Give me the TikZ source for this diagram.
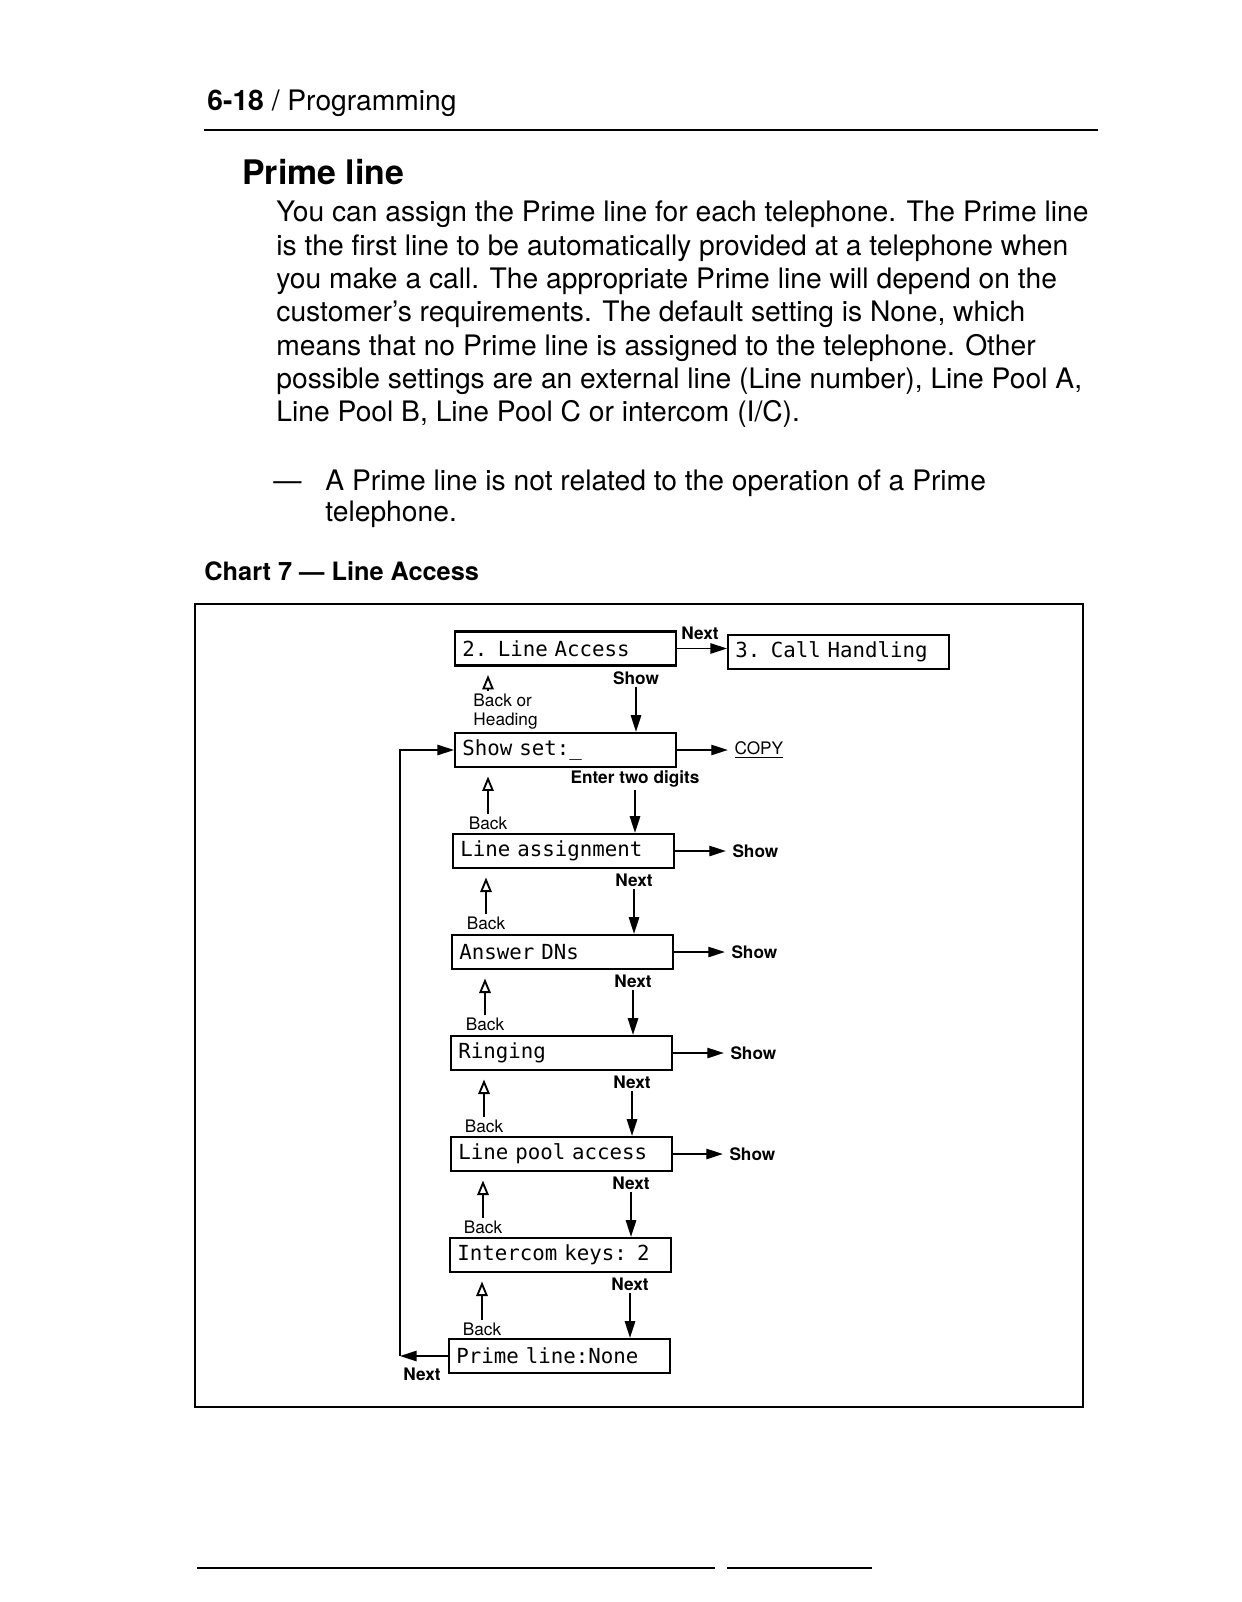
\documentclass[tikz,border=0pt]{standalone}
\usepackage{fontspec}
\setmainfont{TeX Gyre Heros}
\newfontfamily\lcdfont{DejaVu Sans Mono}
\usetikzlibrary{arrows.meta}

\begin{document}
\begin{tikzpicture}[
    x=0.4818pt, y=-0.4818pt,
    >={Triangle[length=8pt,width=5pt]},
    screen/.style={draw, rectangle, line width=1.1pt, anchor=west, minimum height=16.4pt, text width=99.5pt, inner xsep=3.5pt, inner ysep=0pt, align=left, font=\lcdfont\fontsize{10}{12}\selectfont},
    keylbl/.style={inner sep=1pt, font=\fontsize{8.3}{10}\selectfont\bfseries},
    backlbl/.style={inner sep=1pt, font=\fontsize{8.3}{10}\selectfont},
    body/.style={anchor=base west, inner sep=0pt, font=\fontsize{13.6}{16}\selectfont},
    wire/.style={line width=0.7pt},
    fwd/.style={wire, ->},
    bk/.style={wire, -{Triangle[open, length=7pt, width=5.5pt, line width=0.9pt]}, shorten >=4pt}
]
  \useasboundingbox (0,0) rectangle (1241,1602);

  % Page head
  \node[anchor=base west, inner sep=0pt, font=\fontsize{13.6}{16}\selectfont] (hdr) at (207,111) {\textbf{6-18} / Programming};
  \draw[line width=0.8pt] (204,130) -- (1098,130);
  \node[anchor=base west, inner sep=0pt, font=\fontsize{16.3}{19}\selectfont\bfseries] (title) at (242,185) {Prime line};

  % Text
  \node[body] (p1) at (276,222) {You can assign the Prime line for each telephone. The Prime line};
  \node[body] (p2) at (276,255.3) {is the first line to be automatically provided at a telephone when};
  \node[body] (p3) at (276,288.6) {you make a call. The appropriate Prime line will depend on the};
  \node[body] (p4) at (276,321.9) {customer's requirements. The default setting is None, which};
  \node[body] (p5) at (276,355.2) {means that no Prime line is assigned to the telephone. Other};
  \node[body] (p6) at (276,388.5) {possible settings are an external line (Line number), Line Pool A,};
  \node[body] (p7) at (276,421.8) {Line Pool B, Line Pool C or intercom (I/C).};
  \node[body] (dash) at (273,490) {---};
  \node[body] (n1) at (325,490) {A Prime line is not related to the operation of a Prime};
  \node[body] (n2) at (325,521) {telephone.};
  \node[anchor=base west, inner sep=0pt, font=\fontsize{12.2}{14}\selectfont\bfseries] (cap) at (204,580) {Chart 7 --- Line Access};

  % Chart
  \draw[line width=0.7pt] (195,604) rectangle (1083,1407);

  \node[screen] (la) at (454,648.5) {2. Line Access};
  \node[screen] (ch) at (727,652) {3. Call Handling};
  \node[screen] (ss) at (454,750) {Show set:\_};
  \node[screen] (as) at (452,851) {Line assignment};
  \node[screen] (ad) at (451,952) {Answer DNs};
  \node[screen] (rg) at (450,1053) {Ringing};
  \node[screen] (lp) at (450,1154) {Line pool access};
  \node[screen] (ic) at (449,1255) {Intercom keys: 2};
  \node[screen] (pl) at (448,1356) {Prime line:None};

  \node[keylbl] (nxla) at (700,633) {Next};
  \draw[fwd] (la.east) -- (la.east -| ch.west);

  \node[keylbl] (shla) at (636,678) {Show};
  \draw[fwd] (shla) -- (shla |- ss.north);
  \node[backlbl, anchor=north west, align=left, font=\fontsize{8.3}{9.6}\selectfont] (bkla) at (471,691) {Back or\\Heading};
  \coordinate (bkx) at (488,691);
  \draw[bk] (bkx) -- (bkx |- la.south);

  \node[keylbl] (nxss) at (635,779) {Enter two digits};
  \draw[fwd] (nxss) -- (nxss |- as.north);
  \node[backlbl] (bkss) at (488,823) {Back};
  \draw[bk] (bkss) -- (bkss |- ss.south);

  \node[keylbl] (nxas) at (634,880) {Next};
  \draw[fwd] (nxas) -- (nxas |- ad.north);
  \node[backlbl] (bkas) at (486,923) {Back};
  \draw[bk] (bkas) -- (bkas |- as.south);

  \node[keylbl] (nxad) at (633,981) {Next};
  \draw[fwd] (nxad) -- (nxad |- rg.north);
  \node[backlbl] (bkad) at (485,1024) {Back};
  \draw[bk] (bkad) -- (bkad |- ad.south);

  \node[keylbl] (nxrg) at (632,1082) {Next};
  \draw[fwd] (nxrg) -- (nxrg |- lp.north);
  \node[backlbl] (bkrg) at (484,1126) {Back};
  \draw[bk] (bkrg) -- (bkrg |- rg.south);

  \node[keylbl] (nxlp) at (631,1183) {Next};
  \draw[fwd] (nxlp) -- (nxlp |- ic.north);
  \node[backlbl] (bklp) at (483,1227) {Back};
  \draw[bk] (bklp) -- (bklp |- lp.south);

  \node[keylbl] (nxic) at (630,1284) {Next};
  \draw[fwd] (nxic) -- (nxic |- pl.north);
  \node[backlbl] (bkic) at (482,1329) {Back};
  \draw[bk] (bkic) -- (bkic |- ic.south);

  % Right side
  \node[backlbl, anchor=west] (copy) at (732,750) {\underline{COPY}};
  \draw[fwd, shorten >=2pt] (ss.east) -- (copy);
  \node[keylbl, anchor=west] (shas) at (730,851) {Show};
  \draw[fwd, shorten >=2pt] (as.east) -- (shas);
  \node[keylbl, anchor=west] (shad) at (729,952) {Show};
  \draw[fwd, shorten >=2pt] (ad.east) -- (shad);
  \node[keylbl, anchor=west] (shrg) at (728,1053) {Show};
  \draw[fwd, shorten >=2pt] (rg.east) -- (shrg);
  \node[keylbl, anchor=west] (shlp) at (727,1154) {Show};
  \draw[fwd, shorten >=2pt] (lp.east) -- (shlp);

  % Loop back
  \coordinate (loopbot) at (400,1356);
  \coordinate (looptop) at (400,750);
  \draw[fwd] (pl.west) -- (loopbot);
  \draw[fwd] (loopbot) -- (looptop) -- (ss.west);
  \node[keylbl] (nxpl) at (422,1374) {Next};

  % Foot
  \draw[line width=0.6pt] (197,1568) -- (715,1568);
  \draw[line width=0.6pt] (727,1568) -- (872,1568);
\end{tikzpicture}
\end{document}
